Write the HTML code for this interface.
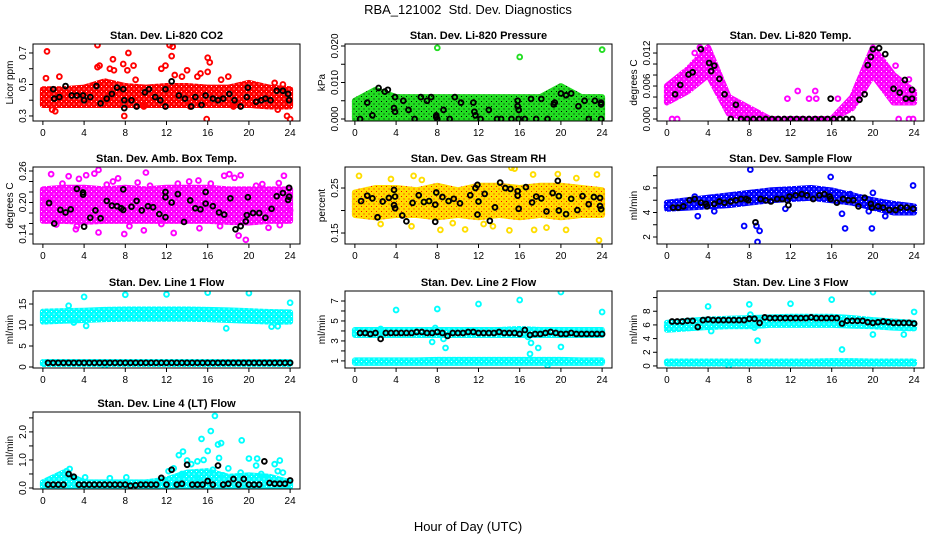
<!DOCTYPE html>
<html><head><meta charset="utf-8"><style>
body{margin:0;background:#fff}
svg{display:block;font-family:"Liberation Sans",sans-serif}
</style></head><body>
<svg id="chart" width="936" height="540" viewBox="0 0 936 540" xmlns="http://www.w3.org/2000/svg">
<rect width="936" height="540" fill="#fff"/>
<text x="468" y="14" text-anchor="middle" font-size="13" xml:space="preserve">RBA_121002  Std. Dev. Diagnostics</text>
<text x="468" y="531" text-anchor="middle" font-size="13">Hour of Day (UTC)</text>
</svg>
<script>
const xTicks=[0,4,8,12,16,20,24];
const bandHours=[0,2,4,6,8,10,12,14,16,18,20,22,24];

// P1 CO2
const co2Lo=[0.37,0.37,0.37,0.37,0.37,0.37,0.37,0.37,0.37,0.37,0.37,0.36,0.36];
const co2Hi=[0.47,0.47,0.48,0.52,0.49,0.48,0.49,0.49,0.48,0.48,0.51,0.48,0.47];
const co2OutX=[0.4,5.3,5.5,5.3,6.8,6.5,6.9,7.8,8.3,8.2,8.8,9,1.6,0.3,0.9,1.2,7.9,12.3,12.6,12.5,11.5,11.9,12.8,13.5,14,15,15.3,16,16.2,16,15.9,17.3,18,22.5,23.3,22.8,23.7,24,9.8,14.3,18.5];
const co2OutY=[0.71,0.75,0.62,0.61,0.66,0.60,0.59,0.63,0.70,0.59,0.62,0.53,0.55,0.54,0.34,0.33,0.30,0.75,0.74,0.68,0.60,0.62,0.56,0.55,0.59,0.55,0.57,0.67,0.64,0.58,0.28,0.53,0.55,0.51,0.50,0.34,0.30,0.28,0.36,0.36,0.36];
const co2BlkX=[1,1.1,1.6,2.2,2.8,3.3,3.9,4,4.6,5.2,5.6,6.2,6.7,7.2,7.8,7.9,7.9,8.6,9.1,9.9,10.3,10.9,11.4,11.9,11.9,12.5,13.2,13.8,14.4,14.8,15.4,15.8,16.5,17,17.5,18.1,18.6,19.2,19.8,19.9,20.7,21.2,21.6,22.1,22.7,23.3,23.8,23.9];
const co2BlkY=[0.47,0.41,0.42,0.49,0.43,0.43,0.43,0.40,0.42,0.49,0.38,0.41,0.44,0.48,0.47,0.40,0.35,0.40,0.36,0.45,0.47,0.42,0.40,0.36,0.47,0.52,0.43,0.41,0.36,0.42,0.37,0.43,0.41,0.40,0.41,0.44,0.40,0.36,0.42,0.48,0.39,0.40,0.41,0.40,0.46,0.46,0.44,0.40];

// P2 Pressure
const prsLo=[0,0,0,0,0,0,0,0,0,0,0,0,0];
const prsHi=[0.005,0.008,0.006,0.006,0.006,0.006,0.006,0.006,0.006,0.006,0.009,0.006,0.006];
const prsOutX=[8,16,24];
const prsOutY=[0.0195,0.017,0.019];
const prsBlkX=[0.5,1.2,1.7,2.3,2.9,3.2,3.9,3.8,3.9,4.7,5.2,5.8,6.4,7,7.4,7.9,7.9,8,8.6,9.2,9.7,10.3,11.5,11.6,11.7,12.2,13,13.8,14.2,15.2,15.8,15.8,15.9,15.9,16.5,17.1,17.6,18.1,18.7,19.3,19.4,20,20.5,21,21.7,22.3,22.7,23.3,23.9,23.9,23.9];
const prsBlkY=[0,0.0045,0.001,0.0085,0.0075,0.008,0.006,0.003,0.002,0.005,0.0025,0,0.006,0.005,0.006,0.001,0.0005,0,0.0025,0,0.006,0.0045,0.0045,0.002,0.001,0,0.0025,0,0,0,0.005,0.0035,0.0025,0,0,0.0055,0,0.0055,0,0.004,0.0045,0.007,0.0065,0.007,0.0035,0.005,0,0.005,0.0045,0.004,0];

// P3 Li-820 Temp
const tmpLo=[0.003,0.005,0.008,0.001,0,0,0,0,0,0.002,0.008,0.003,0.003];
const tmpHi=[0.006,0.009,0.013,0.004,0.002,0,0,0,0,0.004,0.013,0.008,0.005];
const tmpOutX=[11.7,12.7,14.4,22.2,23.5,16.6,13.8,14.5,0.5,1,22.5,23.5,23.9,3.2,2.7];
const tmpOutY=[0.0037,0.0051,0.0051,0.0097,0.0072,0.0037,0.0037,0.0037,0,0,0,0,0,0.013,0.012];
const tmpBlkX=[0.8,1.3,2.1,2.5,3.3,4.1,4.3,4.6,5.1,5.6,6.7,6.2,7.2,7.8,8.4,9,9.6,10.2,10.8,11.4,12,12.6,13.2,13.8,14.4,15,15.6,16.2,16.8,17.4,18,15.9,18.7,19.2,19.5,19.8,20,20.6,21.2,22,22.6,23.1,23.2,23.8,23.8];
const tmpBlkY=[0.0045,0.0062,0.0081,0.0085,0.0127,0.0102,0.0087,0.0097,0.0073,0.0045,0.0026,0,0,0,0,0,0,0,0,0,0,0,0,0,0,0,0,0,0,0,0,0.0037,0.0035,0.0045,0.0098,0.0113,0.0127,0.0129,0.0118,0.0055,0.0048,0.0071,0.0037,0.0053,0.0037];

// P4 Amb box temp
const ambLo=[0.165,0.165,0.163,0.165,0.165,0.165,0.165,0.165,0.165,0.163,0.162,0.165,0.165];
const ambHi=[0.225,0.228,0.228,0.225,0.228,0.225,0.228,0.228,0.228,0.225,0.225,0.225,0.225];
const ambOutX=[0.8,1.9,2.5,3.5,4.2,5,5.4,6.2,7.3,10,10.4,13.1,15.1,16.3,17.6,18.1,18.6,19.2,20.7,22.9,23.4,3.2,5.4,7.9,9.8,12.7,15.2,19,19.7,21.9,17.2,3.3,1.3,11.5,23.0,8.4,0.3,6.8,9.2,14.2,21.3,24];
const ambOutY=[0.254,0.236,0.250,0.245,0.252,0.255,0.262,0.234,0.246,0.257,0.232,0.236,0.242,0.236,0.251,0.254,0.247,0.252,0.232,0.237,0.251,0.149,0.143,0.140,0.147,0.142,0.151,0.137,0.129,0.152,0.155,0.155,0.158,0.159,0.157,0.155,0.205,0.240,0.238,0.240,0.235,0.185];
const ambBlkX=[0.6,1.1,1.7,2.2,2.7,3.3,3.9,4.0,3.9,4.6,5.1,5.6,6.2,6.7,7.2,7.6,7.8,7.8,8.6,9.1,9.6,10.2,10.7,11.3,11.9,11.9,11.9,12.5,13.1,13.7,14.3,14.8,15.3,15.8,15.8,16.5,17.1,17.6,18.2,18.7,19.2,19.7,19.8,19.9,20.4,21,21.6,22.2,22.7,23.3,23.8,23.9,23.9];
const ambBlkY=[0.199,0.160,0.186,0.181,0.187,0.226,0.219,0.154,0.215,0.171,0.185,0.170,0.203,0.194,0.193,0.189,0.186,0.225,0.192,0.203,0.185,0.193,0.191,0.178,0.220,0.210,0.172,0.200,0.216,0.163,0.204,0.189,0.187,0.198,0.220,0.193,0.181,0.177,0.208,0.149,0.155,0.164,0.176,0.210,0.180,0.180,0.171,0.188,0.212,0.218,0.205,0.211,0.228];

// P5 Gas stream RH
const rhLo=[0.19,0.185,0.19,0.19,0.185,0.19,0.185,0.19,0.185,0.19,0.185,0.19,0.19];
const rhHi=[0.24,0.25,0.25,0.245,0.255,0.245,0.255,0.255,0.25,0.255,0.255,0.25,0.245];
const rhOutX=[0.4,5.7,15.2,15.5,17.3,19.7,23.5,8.3,10.7,13.4,15.0,17.4,18.6,20.5,23.7,2.5,5.5,9.5,3.5,6.5,21.5,12.5];
const rhOutY=[0.277,0.277,0.295,0.293,0.280,0.281,0.280,0.157,0.158,0.165,0.156,0.157,0.162,0.157,0.134,0.170,0.165,0.172,0.270,0.268,0.272,0.170];
const rhBlkX=[0.6,1.2,1.7,2.2,2.7,3.3,3.8,3.9,3.9,3.8,4.6,5.0,5.6,6.2,6.7,7.2,7.8,7.8,7.9,8.5,9.1,9.6,10.2,11.2,11.7,11.9,12,11.9,12.6,13.1,13.6,14.1,14.6,15.1,15.8,15.8,15.9,16.6,17.2,17.6,18.1,18.6,19.2,19.7,19.8,19.8,20.5,21,21.6,22.1,22.7,23.2,23.8,23.8,23.9];
const rhBlkY=[0.221,0.233,0.227,0.185,0.220,0.228,0.212,0.205,0.231,0.246,0.189,0.176,0.217,0.234,0.219,0.221,0.213,0.175,0.240,0.230,0.221,0.226,0.216,0.234,0.250,0.257,0.220,0.191,0.237,0.177,0.207,0.262,0.250,0.248,0.243,0.233,0.204,0.252,0.218,0.231,0.227,0.198,0.239,0.266,0.232,0.200,0.192,0.226,0.201,0.232,0.214,0.230,0.228,0.210,0.203];

// P6 Sample flow
const smpLo=[4.3,4.4,4.5,4.6,4.8,5.0,5.1,5.2,5.0,4.8,4.4,4.0,4.0];
const smpHi=[4.8,5.0,5.2,5.4,5.6,5.8,5.9,6.0,5.8,5.4,5.0,4.7,4.5];
const smpOutX=[8.1,15.9,23.9,2.7,20,3,7.5,8.7,8.8,9,17,17.3,19.9,21.2,4.6,19.6,11.5,17.8];
const smpOutY=[7.5,6.9,6.2,5.3,5.6,3.7,2.9,2.9,1.6,2.5,3.9,2.7,2.7,3.7,4.1,4.1,4.3,5.5];
const smpBlkX=[0.6,1.1,1.6,2.2,2.7,3.3,3.8,3.9,4.6,5.1,5.6,6.2,6.7,7.2,7.7,7.9,8.6,9.1,9.6,10.1,10.7,11.2,11.7,11.8,11.9,12.5,13.1,13.6,14.2,14.8,15.3,15.8,15.9,16.5,17.1,17.6,18.1,18.6,19.2,19.8,19.9,20.5,21,21.6,22.2,22.7,23.3,23.9];
const smpBlkY=[4.4,4.4,4.5,5.0,5.1,4.8,4.7,4.5,4.7,4.9,4.8,4.9,5.0,5.1,5.1,5.0,3.2,5.1,5.0,4.9,5.1,5.1,5.0,4.6,5.3,5.4,5.5,5.4,5.1,5.4,5.5,5.3,5.1,4.8,5.1,5.0,5.0,4.5,5.2,4.7,4.4,4.5,4.4,4.2,4.2,4.4,4.4,4.3];

const lineBlkX=[0.5,1,1.5,2,2.5,3,3.5,4,4.5,5,5.5,6,6.5,7,7.5,8,8.5,9,9.5,10,10.5,11,11.5,12,12.5,13,13.5,14,14.5,15,15.5,16,16.5,17,17.5,18,18.5,19,19.5,20,20.5,21,21.5,22,22.5,23,23.5,24];

// P7 Line1 flow
const l1aLo=[10.8,11.0,11.2,11.4,11.5,11.5,11.5,11.5,11.4,11.2,11.0,10.8,10.8];
const l1aHi=[13.2,13.3,13.4,13.6,13.7,13.7,13.7,13.7,13.6,13.5,13.3,13.1,13.0];
const l1bLo=[0.7,0.7,0.7,0.7,0.7,0.7,0.7,0.7,0.7,0.7,0.7,0.7,0.7];
const l1bHi=[1.2,1.2,1.2,1.2,1.2,1.2,1.2,1.2,1.2,1.2,1.2,1.2,1.2];
const l1OutX=[2.5,4,8,12,16,20,24,4.2,17.8,22.2,22.8,3,6];
const l1OutY=[14.6,16.7,17.2,17.3,17.7,17.6,15.3,9.8,9.2,9.6,9.7,10.6,0.2];
const l1BlkY=[1,1,1,1,1,1,1,1,1,1,1,1,1,1,1,1,1,1,1,1,1,1,1,1,1,1,1,1,1,1,1,1,1,1,1,1,1,1,1,1,1,1,1,1,1,1,1,1];

// P8 Line2 flow
const l2aLo=[3.6,3.6,3.6,3.6,3.6,3.6,3.6,3.6,3.6,3.6,3.6,3.6,3.6];
const l2aHi=[4.1,4.1,4.1,4.1,4.1,4.1,4.1,4.1,4.2,4.1,4.1,4.1,4.1];
const l2bLo=[0.8,0.8,0.8,0.8,0.8,0.8,0.8,0.8,0.8,0.8,0.8,0.8,0.8];
const l2bHi=[1.05,1.05,1.05,1.05,1.1,1.1,1.1,1.1,1.1,1.1,1.1,1.05,1.05];
const l2OutX=[4,8,12,16,20,24,2.5,7.5,7.8,8.6,8.8,17,17.8,20,16.8,17.1,18.7];
const l2OutY=[6.1,6.2,6.7,7.1,7.9,5.9,4.2,2.9,4.3,3.2,2.3,1.7,2.3,2.4,3.4,2.8,0.55];
const l2BlkY=[3.8,3.8,3.7,3.8,3.2,3.8,3.8,3.8,3.8,3.8,3.8,3.9,3.9,3.8,3.8,3.9,3.8,3.5,3.8,3.8,3.8,3.9,3.9,3.8,3.8,3.8,3.8,3.9,3.8,3.8,3.8,3.7,4.1,3.6,3.7,3.7,3.8,3.9,3.8,3.7,3.7,3.8,3.7,3.7,3.7,3.7,3.7,3.7];

// P9 Line3 flow
const l3aLo=[5.3,5.5,5.7,5.8,5.8,6.0,6.0,6.0,6.0,5.9,5.8,5.6,5.5];
const l3aHi=[6.3,6.6,6.8,6.9,7.0,7.1,7.2,7.2,7.2,7.0,6.7,6.5,6.3];
const l3bLo=[0.35,0.35,0.35,0.35,0.35,0.35,0.35,0.35,0.35,0.35,0.35,0.35,0.35];
const l3bHi=[0.65,0.65,0.65,0.65,0.65,0.65,0.65,0.65,0.7,0.7,0.65,0.65,0.65];
const l3OutX=[4,8,12,16,20,24,4.3,8.8,17,20,23,8.1,8.5,6];
const l3OutY=[8.7,9,9.1,9.7,10.8,7.9,5.1,3.7,2.4,4.6,4.6,7.5,5.6,0];
const l3BlkY=[6.5,6.5,6.5,6.6,6.6,5.7,6.7,6.8,6.7,6.7,6.7,6.7,6.7,6.7,6.7,6.9,6.9,6.3,7.1,7.0,7.0,7.0,7.0,7.0,7.0,7.0,7.0,7.1,7.0,7.0,7.0,7.0,7.0,6.2,6.6,6.6,6.6,6.6,6.4,6.3,6.4,6.5,6.4,6.3,6.3,6.3,6.3,6.2];

// P10 Line4 flow
const l4Lo=[0.05,0.05,0.05,0.05,0.05,0.05,0.05,0.05,0.05,0.05,0.05,0.05,0.05];
const l4Hi=[0.2,0.55,0.2,0.2,0.2,0.2,0.3,0.55,0.6,0.4,0.45,0.4,0.2];
const l4OutX=[2.3,2.6,4.1,6.5,8.1,12.2,12.7,13.2,13.6,14,14.4,15,15.4,15.6,16,16.3,16.7,17,17.3,17.1,18,19.3,19.2,20,20.8,20.7,21.2,22.5,23,23.3,13.5,15,16.5,17.5,21.5,22.8];
const l4OutY=[0.6,0.68,0.38,0.35,0.38,0.6,0.7,1.17,1.3,0.98,0.85,0.95,1.75,1.0,1.32,2.03,2.57,1.55,1.6,1.07,0.7,1.7,0.55,1.05,1.05,0.8,0.5,0.85,0.98,0.55,0.5,0.35,0.65,0.45,0.35,0.6];
const l4BlkY=[0.12,0.12,0.12,0.12,0.5,0.4,0.12,0.12,0.12,0.12,0.12,0.12,0.12,0.12,0.12,0.12,0.08,0.1,0.12,0.12,0.12,0.12,0.36,0.12,0.65,0.12,0.15,0.83,0.12,0.12,0.12,0.25,0.12,0.8,0.12,0.15,0.32,0.12,0.32,0.12,0.12,0.12,0.95,0.18,0.15,0.15,0.15,0.27];

const svg=document.getElementById('chart');
const NS='http://www.w3.org/2000/svg';
function mk(tag,attrs,parent){const e=document.createElementNS(NS,tag);for(const k in attrs)e.setAttribute(k,attrs[k]);parent.appendChild(e);return e;}

const defs=mk('defs',{},svg);
function makePattern(id,bg,dot){
  const p=mk('pattern',{id:id,width:5,height:5,patternUnits:'userSpaceOnUse'},defs);
  mk('rect',{width:5,height:5,fill:bg},p);
  mk('rect',{x:1,y:1,width:1,height:1,fill:dot},p);
  mk('rect',{x:3.5,y:3.5,width:1,height:1,fill:dot},p);
  return 'url(#'+id+')';
}

const colL=[33,345,657],rowT=[44,167,291,412],W=267,H=77;
const panels=[
 {name:'co2',title:'Stan. Dev. Li-820 CO2',ylab:'Licor ppm',c:0,r:0,ymin:0.268,ymax:0.757,ticks:[0.3,0.4,0.5,0.6,0.7],labels:[0.3,0.5,0.7],fmt:1,col:'#ff0000',dot:'#fff',bands:[[co2Lo,co2Hi]],ox:co2OutX,oy:co2OutY,bx:co2BlkX,by:co2BlkY},
 {name:'pressure',title:'Stan. Dev. Li-820 Pressure',ylab:'kPa',c:1,r:0,ymin:-0.00055,ymax:0.02055,ticks:[0,0.005,0.01,0.015,0.02],labels:[0,0.01,0.02],fmt:3,col:'#22dd22',dot:'#000',bands:[[prsLo,prsHi]],ox:prsOutX,oy:prsOutY,bx:prsBlkX,by:prsBlkY},
 {name:'li820-temp',title:'Stan. Dev. Li-820 Temp.',ylab:'degrees C',c:2,r:0,ymin:-0.00036,ymax:0.01364,ticks:[0,0.002,0.004,0.006,0.008,0.01,0.012],labels:[0,0.006,0.012],fmt:3,col:'#ff00ff',dot:'#fff',bands:[[tmpLo,tmpHi]],ox:tmpOutX,oy:tmpOutY,bx:tmpBlkX,by:tmpBlkY},
 {name:'amb-temp',title:'Stan. Dev. Amb. Box Temp.',ylab:'degrees C',c:0,r:1,ymin:0.121,ymax:0.2676,ticks:[0.14,0.16,0.18,0.2,0.22,0.24,0.26],labels:[0.14,0.2,0.26],fmt:2,col:'#ff00ff',dot:'#fff',bands:[[ambLo,ambHi]],ox:ambOutX,oy:ambOutY,bx:ambBlkX,by:ambBlkY},
 {name:'rh',title:'Stan. Dev. Gas Stream RH',ylab:'percent',c:1,r:1,ymin:0.1256,ymax:0.2967,ticks:[0.15,0.2,0.25],labels:[0.15,0.25],fmt:2,col:'#ffdd00',dot:'#ff0000',bands:[[rhLo,rhHi]],ox:rhOutX,oy:rhOutY,bx:rhBlkX,by:rhBlkY},
 {name:'sample-flow',title:'Stan. Dev. Sample Flow',ylab:'ml/min',c:2,r:1,ymin:1.43,ymax:7.71,ticks:[2,3,4,5,6,7],labels:[2,4,6],fmt:0,col:'#0000ff',dot:'#fff',bands:[[smpLo,smpHi]],ox:smpOutX,oy:smpOutY,bx:smpBlkX,by:smpBlkY},
 {name:'line1-flow',title:'Stan. Dev. Line 1 Flow',ylab:'ml/min',c:0,r:2,ymin:-0.24,ymax:18.1,ticks:[0,5,10,15],labels:[0,5,10,15],fmt:0,col:'#00ffff',dot:'#fff',bands:[[l1aLo,l1aHi],[l1bLo,l1bHi]],ox:l1OutX,oy:l1OutY,bx:lineBlkX,by:l1BlkY},
 {name:'line2-flow',title:'Stan. Dev. Line 2 Flow',ylab:'ml/min',c:1,r:2,ymin:0.29,ymax:8.0,ticks:[1,2,3,4,5,6,7],labels:[1,3,5,7],fmt:0,col:'#00ffff',dot:'#fff',bands:[[l2aLo,l2aHi],[l2bLo,l2bHi]],ox:l2OutX,oy:l2OutY,bx:lineBlkX,by:l2BlkY},
 {name:'line3-flow',title:'Stan. Dev. Line 3 Flow',ylab:'ml/min',c:2,r:2,ymin:-0.3,ymax:10.96,ticks:[0,2,4,6,8,10],labels:[0,2,4,6,8],fmt:0,col:'#00ffff',dot:'#fff',bands:[[l3aLo,l3aHi],[l3bLo,l3bHi]],ox:l3OutX,oy:l3OutY,bx:lineBlkX,by:l3BlkY},
 {name:'line4-flow',title:'Stan. Dev. Line 4 (LT) Flow',ylab:'ml/min',c:0,r:3,ymin:-0.036,ymax:2.71,ticks:[0,0.5,1,1.5,2,2.5],labels:[0,1,2],fmt:1,col:'#00ffff',dot:'#fff',bands:[[l4Lo,l4Hi]],ox:l4OutX,oy:l4OutY,bx:lineBlkX,by:l4BlkY}
];

panels.forEach(p=>{
  const L=colL[p.c],T=rowT[p.r];
  const g=mk('g',{},svg);
  
  
  const xs=v=>L+(v+0.96)/25.92*W;
  const ys=v=>T+H-(v-p.ymin)/(p.ymax-p.ymin)*H;
  const pat=makePattern('pat-'+p.name,p.col,p.dot);
  const clip=mk('clipPath',{id:'clip-'+p.name},g);
  mk('rect',{x:L,y:T,width:W,height:H},clip);
  const data=mk('g',{'clip-path':'url(#clip-'+p.name+')'},g);
  p.bands.forEach(b=>{
    const pts=[];
    bandHours.forEach((h,i)=>pts.push(xs(h)+','+ys(b[1][i])));
    for(let i=bandHours.length-1;i>=0;i--)pts.push(xs(bandHours[i])+','+ys(b[0][i]));
    const poly=mk('polygon',{points:pts.join(' '),fill:pat,stroke:pat,'stroke-width':6,'stroke-linejoin':'round'},data);
    
    
  });
  p.ox.forEach((x,i)=>{
    const c=mk('circle',{cx:xs(x),cy:ys(p.oy[i]),r:2.4,fill:'none',stroke:p.col,'stroke-width':1.9},data);
    
    
  });
  p.bx.forEach((x,i)=>{
    const c=mk('circle',{cx:xs(x),cy:ys(p.by[i]),r:2.4,fill:'none',stroke:'#000','stroke-width':1.9},data);
    
    
  });
  const box=mk('rect',{x:L,y:T,width:W,height:H,fill:'none',stroke:'#000','stroke-width':1},g);
  
  
  const t=mk('text',{x:L+W/2,y:T-5,'text-anchor':'middle','font-size':11,'font-weight':'bold'},g);
  t.textContent=p.title;
  
  
  xTicks.forEach(v=>{
    mk('line',{x1:xs(v),x2:xs(v),y1:T+H,y2:T+H+4,stroke:'#000'},g);
    const tx=mk('text',{x:xs(v),y:T+H+15,'text-anchor':'middle','font-size':10},g);
    tx.textContent=v;
    
    
  });
  p.ticks.forEach(v=>{
    mk('line',{x1:L-4,x2:L,y1:ys(v),y2:ys(v),stroke:'#000'},g);
  });
  p.labels.forEach(v=>{
    const tx=mk('text',{x:0,y:0,'text-anchor':'middle','font-size':10,transform:'translate('+(L-7)+','+ys(v)+') rotate(-90)'},g);
    tx.textContent=v.toFixed(p.fmt);
    
    
  });
  const yl=mk('text',{x:0,y:0,'text-anchor':'middle','font-size':10,transform:'translate('+(L-20)+','+(T+H/2)+') rotate(-90)'},g);
  yl.textContent=p.ylab;
  
  
});
</script>
</body></html>
